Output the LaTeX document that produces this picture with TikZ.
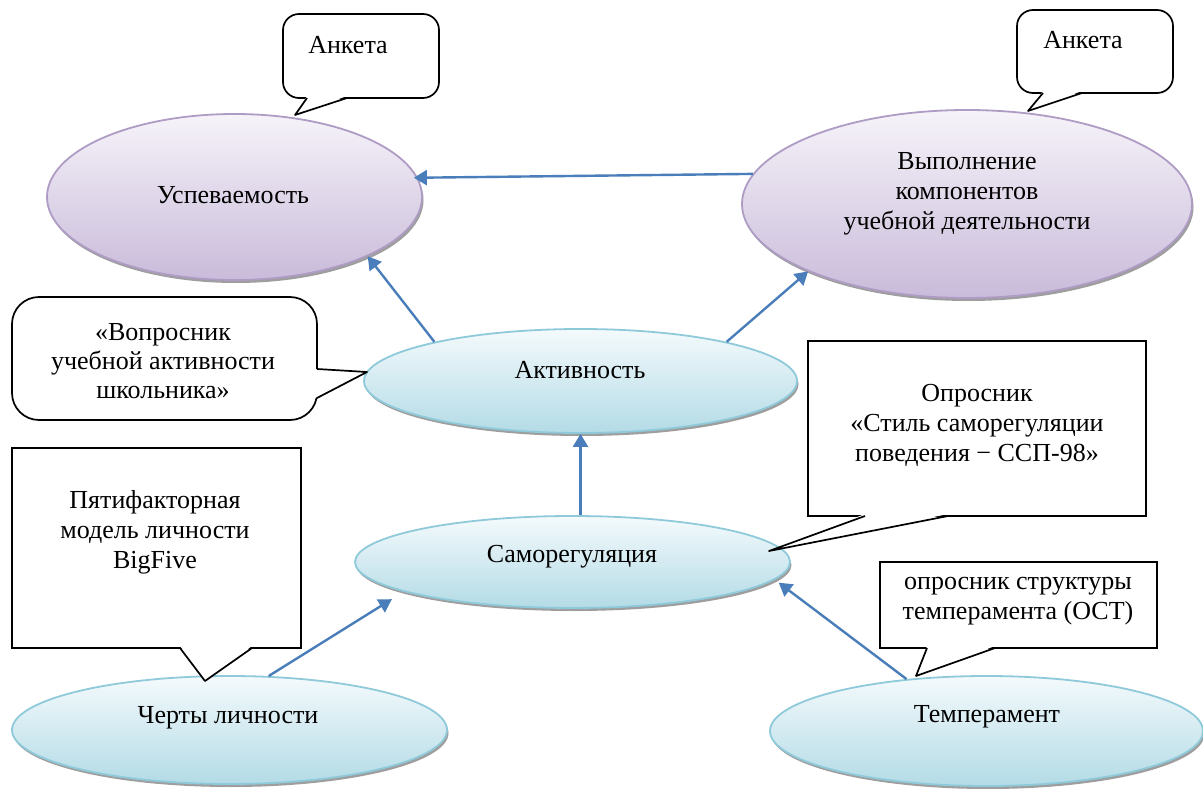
\documentclass[tikz,border=0pt]{standalone}
\usepackage{fontspec}
\setmainfont{Liberation Serif}
\usetikzlibrary{shapes.geometric,arrows.meta,shadows,calc}
\definecolor{purpB}{HTML}{AE9CC4}
\definecolor{purpT}{HTML}{F6F3F9}
\definecolor{purpD}{HTML}{C9BBDA}
\definecolor{bluB}{HTML}{8FCADB}
\definecolor{bluT}{HTML}{F4FAFC}
\definecolor{bluD}{HTML}{B3DBE6}
\definecolor{arrC}{HTML}{4A7EBB}
\newcommand\fsz{\fontsize{26}{30}\selectfont}
\begin{document}
\begin{tikzpicture}[x=1pt,y=-1pt,
  ell/.style={ellipse, inner sep=0pt, line width=1.8pt,
    drop shadow={shadow xshift=1.5pt, shadow yshift=-3pt, fill=black!38, opacity=1}},
  purp/.style={ell, draw=purpB, top color=purpT, bottom color=purpD},
  blu/.style={ell, draw=bluB, top color=bluT, bottom color=bluD},
  arr/.style={draw=arrC, line width=2.4pt, -{Triangle[length=13pt,width=15pt]}},
  cbox/.style={draw=black, line width=1.7pt, fill=white},
  cline/.style={draw=black, line width=1.7pt, line join=round},
  txt/.style={font=\fsz, align=center, inner sep=0pt}
]
\fill[white] (0,0) rectangle (1203,789);
\useasboundingbox (0,0) rectangle (1203,789);

% ellipses
\node[purp, minimum width=375pt, minimum height=166pt] (usp) at (234.5,197) {};
\node[purp, minimum width=450pt, minimum height=188pt] (vyp) at (967,204) {};
\node[blu, minimum width=433pt, minimum height=104pt] (akt) at (580.5,381) {};
\node[blu, minimum width=435pt, minimum height=92pt] (sam) at (572.5,562) {};
\node[blu, minimum width=435pt, minimum height=108pt] (cher) at (229.5,730) {};
\node[blu, minimum width=433pt, minimum height=110pt] (temp) at (986.5,731) {};

% ellipse texts
\node[txt] (tusp) at (233,195) {Успеваемость};
\node[txt] (tvyp) at (967,194) {Выполнение\\компонентов\\учебной деятельности};
\node[txt] (takt) at (580,370) {Активность};
\node[txt] (tsam) at (572,557) {Саморегуляция};
\node[txt] (tcher) at (228,718) {Черты личности};
\node[txt] (ttemp) at (987,717) {Темперамент};

% callout: Анкета (left)
\draw[cbox, rounded corners=16pt] (283,14) rectangle (439,98);
\fill[white] (307,96) -- (295,115) -- (347,96) -- cycle;
\draw[cline] (307,98) -- (295,115) -- (347,98);
\node[txt] (c1) at (348,45) {Анкета};

% callout: Анкета (right)
\draw[cbox, rounded corners=16pt] (1017,10) rectangle (1173,93);
\fill[white] (1043,91) -- (1028,111) -- (1082,91) -- cycle;
\draw[cline] (1043,93) -- (1028,111) -- (1082,93);
\node[txt] (c2) at (1083,40) {Анкета};

% callout: Вопросник
\draw[cbox, rounded corners=27pt] (12,297) rectangle (317,420);
\fill[white] (315,369) -- (367,372) -- (315,398) -- cycle;
\draw[cline] (317,369) -- (367,372) -- (317,398);
\node[txt, font=\fontsize{26}{29}\selectfont] (c3) at (163,361) {«Вопросник\\учебной активности\\школьника»};

% callout: Пятифакторная
\draw[cbox] (12,448) rectangle (301,648);
\fill[white] (180,646) -- (205,681) -- (252,646) -- cycle;
\draw[cline] (180,648) -- (205,681) -- (252,648);
\node[txt] (c4) at (155,532) {Пятифакторная\\модель личности\\BigFive};

% callout: Опросник ССП-98
\draw[cbox] (808,341) rectangle (1146,516);
\fill[white] (865,514) -- (769,551) -- (948,514) -- cycle;
\draw[cline] (865,516) -- (769,551) -- (948,516);
\node[txt] (c5) at (977,425) {Опросник\\«Стиль саморегуляции\\поведения − ССП-98»};

% callout: ОСТ
\draw[cbox] (880,562) rectangle (1157,648);
\fill[white] (927,646) -- (916,676) -- (995,646) -- cycle;
\draw[cline] (927,648) -- (916,676) -- (995,648);
\node[txt] (c6) at (1018,601) {опросник структуры\\темперамента (ОСТ)};

% arrows
\draw[arr, shorten >=-4pt] (vyp.172.6) -- (usp.6.6);
\draw[arr] (akt.165.4) -- (usp.-24.05);
\draw[arr] (akt.15.3) -- (vyp.-157);
\draw[arr] (akt.south |- sam.north) -- (akt.south);
\draw[arr, shorten >=14pt] (cher.54.7) -- (sam.-170.5);
\draw[arr, shorten >=5pt] (temp.147.9) -- (sam.-5.9);
\end{tikzpicture}
\end{document}
